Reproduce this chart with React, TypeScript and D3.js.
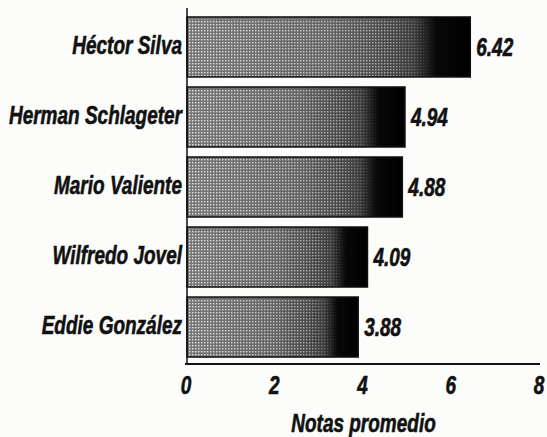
import React, { useEffect, useRef } from "react";
import * as d3 from "d3";

// Data
const names: string[] = [
  "Héctor Silva",
  "Herman Schlageter",
  "Mario Valiente",
  "Wilfredo Jovel",
  "Eddie González",
];
const notas: number[] = [6.42, 4.94, 4.88, 4.09, 3.88];
const xTicks: number[] = [0, 2, 4, 6, 8];
const xTitle = "Notas promedio";

const W = 547;
const H = 437;
// no narrow face installed, so Liberation Sans is squeezed horizontally
const FONT = "'Liberation Sans', Arial, sans-serif";
const SQUEEZE = 0.76;

const App: React.FC = () => {
  const svgRef = useRef<SVGSVGElement>(null);

  useEffect(() => {
    if (!svgRef.current) return;
    const svg = d3.select(svgRef.current);
    svg.selectAll("*").remove();

    const x = d3.scaleLinear().domain([0, 8]).range([187, 540]);
    const y = d3
      .scaleBand<string>()
      .domain(names)
      .range([12, 362])
      .paddingInner(0.143)
      .paddingOuter(0.071);

    svg.append("rect").attr("width", W).attr("height", H).attr("fill", "#fcfcfb");

    const defs = svg.append("defs");

    // tone: mid gray on the left, black towards the end of each bar
    const grad = defs
      .append("linearGradient")
      .attr("id", "tone")
      .attr("x1", 0)
      .attr("x2", 1)
      .attr("y1", 0)
      .attr("y2", 0);
    grad.append("stop").attr("offset", 0).attr("stop-color", "#767676");
    grad.append("stop").attr("offset", 0.5).attr("stop-color", "#656565");
    grad.append("stop").attr("offset", 0.8).attr("stop-color", "#3c3c3c");
    grad.append("stop").attr("offset", 0.88).attr("stop-color", "#080808");
    grad.append("stop").attr("offset", 1).attr("stop-color", "#000");

    // halftone dots, fading out towards the right
    const dots = defs
      .append("pattern")
      .attr("id", "dots")
      .attr("width", 3)
      .attr("height", 3)
      .attr("patternUnits", "userSpaceOnUse");
    dots.append("rect").attr("width", 1.4).attr("height", 1.4).attr("fill", "#fff");

    const fade = defs
      .append("linearGradient")
      .attr("id", "fade")
      .attr("x1", 0)
      .attr("x2", 1)
      .attr("y1", 0)
      .attr("y2", 0);
    fade.append("stop").attr("offset", 0).attr("stop-color", "#fff").attr("stop-opacity", 0.85);
    fade.append("stop").attr("offset", 0.72).attr("stop-color", "#fff").attr("stop-opacity", 0.55);
    fade.append("stop").attr("offset", 0.87).attr("stop-color", "#fff").attr("stop-opacity", 0);

    const rows = names.map((n, i) => ({ name: n, value: notas[i] }));

    const bars = svg.append("g");
    bars
      .selectAll("rect.bar")
      .data(rows)
      .join("rect")
      .attr("class", "bar")
      .attr("x", x(0))
      .attr("y", (d) => y(d.name) as number)
      .attr("width", (d) => x(d.value) - x(0))
      .attr("height", y.bandwidth())
      .attr("fill", "url(#tone)")
      .attr("stroke", "#111")
      .attr("stroke-width", 1.5);

    rows.forEach((d, i) => {
      const m = defs
        .append("mask")
        .attr("id", `m${i}`)
        .attr("maskUnits", "userSpaceOnUse");
      m.append("rect")
        .attr("x", x(0))
        .attr("y", y(d.name) as number)
        .attr("width", x(d.value) - x(0))
        .attr("height", y.bandwidth())
        .attr("fill", "url(#fade)");
      bars
        .append("rect")
        .attr("x", x(0) + 1)
        .attr("y", (y(d.name) as number) + 2)
        .attr("width", x(d.value) - x(0) - 2)
        .attr("height", y.bandwidth() - 3)
        .attr("fill", "url(#dots)")
        .attr("mask", `url(#m${i})`);
    });

    const label = (
      g: d3.Selection<SVGGElement, unknown, null, undefined>,
      px: number,
      py: number,
      s: string,
      anchor: string
    ) =>
      g
        .append("text")
        .attr("transform", `translate(${px},${py}) scale(${SQUEEZE},1)`)
        .attr("font-family", FONT)
        .attr("font-weight", "bold")
        .attr("font-style", "italic")
        .attr("font-size", 25)
        .attr("fill", "#111")
        .attr("stroke", "#111")
        .attr("stroke-width", 0.6)
        .attr("text-anchor", anchor)
        .text(s);

    const texts = svg.append("g") as d3.Selection<SVGGElement, unknown, null, undefined>;

    rows.forEach((d) => {
      const cy = (y(d.name) as number) + y.bandwidth() / 2;
      label(texts, x(0) - 5, cy + 7, d.name, "end");
      label(texts, x(d.value) + 6, cy + 9, d.value.toFixed(2), "start");
    });

    // axis lines
    const axisY = 364;
    svg
      .append("line")
      .attr("x1", x(0))
      .attr("x2", x(0))
      .attr("y1", 8)
      .attr("y2", axisY)
      .attr("stroke", "#111")
      .attr("stroke-width", 1.5);
    svg
      .append("line")
      .attr("x1", x(0) - 2)
      .attr("x2", x(8))
      .attr("y1", axisY)
      .attr("y2", axisY)
      .attr("stroke", "#111")
      .attr("stroke-width", 2);

    xTicks.forEach((t) => label(texts, x(t) - 1, 394, String(t), "middle"));

    label(texts, (x(0) + x(8)) / 2, 432, xTitle, "middle");
  }, []);

  return (
    <svg
      ref={svgRef}
      width={W}
      height={H}
      style={{ position: "absolute", left: 0, top: 0, display: "block" }}
    />
  );
};

export default App;
